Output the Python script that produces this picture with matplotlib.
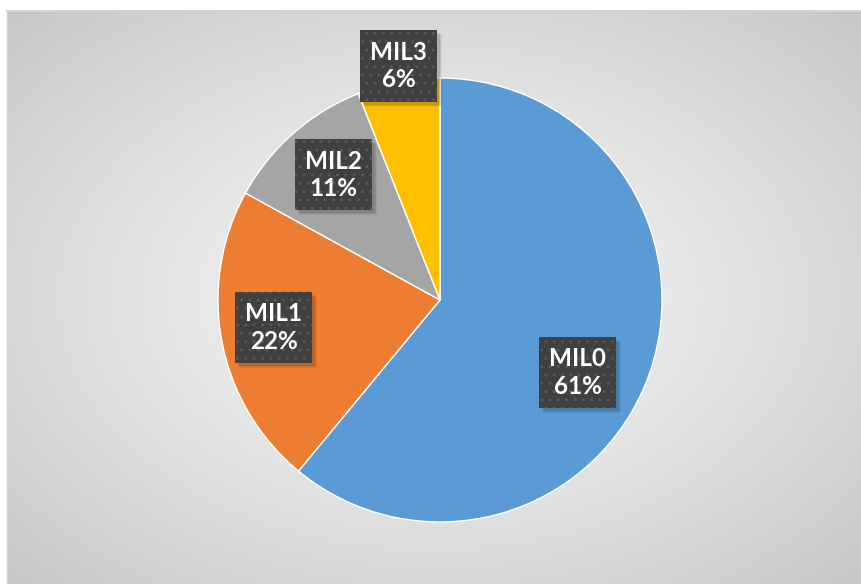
import numpy as np
import matplotlib
matplotlib.use("Agg")
import matplotlib.pyplot as plt
from matplotlib.patches import Rectangle
from matplotlib.transforms import IdentityTransform

categories = ["MIL0", "MIL1", "MIL2", "MIL3"]
values = [61, 22, 11, 6]
colors = ["#5B9BD5", "#ED7D31", "#A5A5A5", "#FFC000"]

W, H = 861, 584
fig = plt.figure(figsize=(W / 100, H / 100), dpi=100)
fig.patch.set_facecolor("white")

# background chart area with radial gradient
bx0, by0 = 7, 11
bg = fig.add_axes([bx0 / W, 0, (W - bx0) / W, (H - by0) / H])
bg.set_axis_off()
nx, ny = 400, 300
xx, yy = np.meshgrid(np.linspace(-1, 1, nx), np.linspace(-1, 1, ny))
d = np.sqrt(xx ** 2 + yy ** 2) / np.sqrt(2)
shade = 0.97 - 0.19 * d ** 1.2
img = np.dstack([shade, shade, shade])
bg.imshow(img, aspect="auto", extent=[0, 1, 0, 1], interpolation="bilinear")
bg.set_xlim(0, 1)
bg.set_ylim(0, 1)
bg.plot([0, 1], [1, 1], color="#d4d4d4", lw=1.5, transform=bg.transAxes, clip_on=False)
bg.plot([0, 0], [0, 1], color="#cfcfcf", lw=1.0, transform=bg.transAxes, clip_on=False)

# pie
cx, cy, r = 440, 300, 222
ax = fig.add_axes([(cx - r) / W, (H - cy - r) / H, 2 * r / W, 2 * r / H])
ax.set_axis_off()
wedges, _ = ax.pie(values, colors=colors, startangle=90, counterclock=False,
                   radius=1.0, wedgeprops=dict(edgecolor="white", linewidth=1.0))
ax.set_xlim(-1, 1)
ax.set_ylim(-1, 1)
ax.set_aspect("equal")

total = sum(values)
label_r = [0.70, 0.76, 0.74, 1.07]
label_da = [-8, -1.3, -1, -0.8]
texts = []
for w, cat, v, lr, da in zip(wedges, categories, values, label_r, label_da):
    mid = np.deg2rad((w.theta1 + w.theta2) / 2 + da)
    x, y = lr * np.cos(mid), lr * np.sin(mid)
    t = ax.text(x, y, f"{cat}\n{round(100 * v / total)}%", color="white",
                ha="center", va="center", multialignment="center", fontsize=17.5,
                fontweight="bold", family=["Lato", "DejaVu Sans"], linespacing=1.25,
                clip_on=False, zorder=5,
                bbox=dict(boxstyle="square,pad=0.42", facecolor="#404040",
                          edgecolor="#575757", linewidth=0, hatch=".."))
    texts.append(t)

# soft drop shadows behind the label boxes
fig.canvas.draw()
renderer = fig.canvas.get_renderer()
for t in texts:
    bb = t.get_bbox_patch().get_window_extent(renderer)
    for k, a in [(5, 0.05), (4, 0.07), (3, 0.10)]:
        ax.add_patch(Rectangle((bb.x0 + k, bb.y0 - k), bb.width, bb.height,
                               transform=IdentityTransform(), facecolor="black",
                               alpha=a, linewidth=0, zorder=4, clip_on=False))

fig.savefig("out.png", dpi=100, facecolor="white")
